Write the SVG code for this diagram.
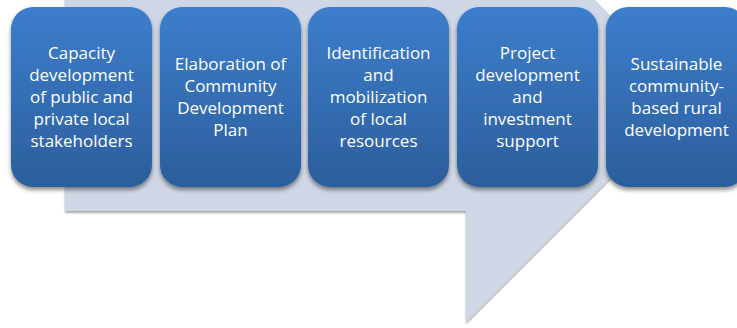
<svg xmlns="http://www.w3.org/2000/svg" width="737" height="328" viewBox="0 0 737 328">
  <defs>
    <linearGradient id="boxGrad" x1="0" y1="0" x2="0" y2="1">
      <stop offset="0" stop-color="#3C7ECC"/>
      <stop offset="1" stop-color="#2C5E9C"/>
    </linearGradient>
    <filter id="boxShadow" x="-10%" y="-10%" width="120%" height="125%">
      <feGaussianBlur in="SourceAlpha" stdDeviation="2"/>
      <feOffset dx="0" dy="3" result="b"/>
      <feComponentTransfer><feFuncA type="linear" slope="0.45"/></feComponentTransfer>
      <feMerge><feMergeNode/><feMergeNode in="SourceGraphic"/></feMerge>
    </filter>
    <filter id="bgShadow" x="-5%" y="-5%" width="110%" height="110%">
      <feGaussianBlur in="SourceAlpha" stdDeviation="0.8"/>
      <feOffset dx="0" dy="1.5"/>
      <feComponentTransfer><feFuncA type="linear" slope="0.35"/></feComponentTransfer>
      <feMerge><feMergeNode/><feMergeNode in="SourceGraphic"/></feMerge>
    </filter>
  </defs>
  <style>
    .box { fill: url(#boxGrad); filter: url(#boxShadow); }
    .lbl { font-family: "Open Sans", "Noto Sans", sans-serif; font-size: 17px; fill: #FFFFFF; text-anchor: middle; }
  </style>
  <rect width="737" height="328" fill="#FFFFFF"/>
  <g id="background-arrow">
    <polygon points="65,-10 585,-10 691.5,96.5 466,322 466,211 65,211" fill="#CFD7E6" filter="url(#bgShadow)"/>
  </g>
  <g id="connectors"></g>
  <g id="node1">
    <rect class="box" x="11" y="7" width="141" height="180" rx="22" ry="22"/>
    <text class="lbl" x="81.5"><tspan x="81.5" y="59">Capacity</tspan><tspan x="81.5" y="81">development</tspan><tspan x="81.5" y="103">of public and</tspan><tspan x="81.5" y="125">private local</tspan><tspan x="81.5" y="147">stakeholders</tspan></text>
  </g>
  <g id="node2">
    <rect class="box" x="160" y="7" width="141" height="180" rx="22" ry="22"/>
    <text class="lbl" x="230.5"><tspan x="230.5" y="70">Elaboration of</tspan><tspan x="230.5" y="92">Community</tspan><tspan x="230.5" y="114">Development</tspan><tspan x="230.5" y="136">Plan</tspan></text>
  </g>
  <g id="node3">
    <rect class="box" x="308" y="7" width="141" height="180" rx="22" ry="22"/>
    <text class="lbl" x="378.5"><tspan x="378.5" y="59">Identification</tspan><tspan x="378.5" y="81">and</tspan><tspan x="378.5" y="103">mobilization</tspan><tspan x="378.5" y="125">of local</tspan><tspan x="378.5" y="147">resources</tspan></text>
  </g>
  <g id="node4">
    <rect class="box" x="457" y="7" width="141" height="180" rx="22" ry="22"/>
    <text class="lbl" x="527.5"><tspan x="527.5" y="59">Project</tspan><tspan x="527.5" y="81">development</tspan><tspan x="527.5" y="103">and</tspan><tspan x="527.5" y="125">investment</tspan><tspan x="527.5" y="147">support</tspan></text>
  </g>
  <g id="node5">
    <rect class="box" x="606" y="7" width="141" height="180" rx="22" ry="22"/>
    <text class="lbl" x="676.5"><tspan x="676.5" y="70">Sustainable</tspan><tspan x="676.5" y="92">community-</tspan><tspan x="676.5" y="114">based rural</tspan><tspan x="676.5" y="136">development</tspan></text>
  </g>
</svg>
